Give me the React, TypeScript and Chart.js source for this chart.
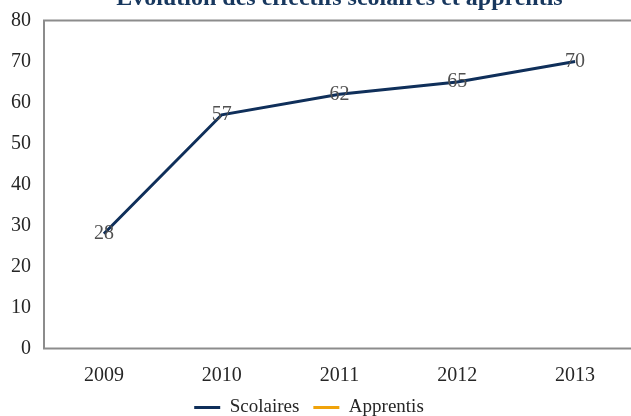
import React, { useEffect, useRef } from "react";
import { Chart, registerables } from "chart.js";

Chart.register(...registerables);

const titleText = "Evolution des effectifs scolaires et apprentis";
const categories = ["2009", "2010", "2011", "2012", "2013"];
const scolaires = [28, 57, 62, 65, 70];
const apprentis: (number | null)[] = [null, null, null, null, null];
const yTicks = [0, 10, 20, 30, 40, 50, 60, 70, 80];

const FONT = "'Liberation Serif', 'DejaVu Serif', serif";
const NAVY = "#0f2f5a";
const ORANGE = "#f0a30a";

const boxPlugin = {
  id: "boxPlugin",
  beforeDatasetsDraw(chart: any) {
    const { ctx, chartArea } = chart;
    ctx.save();
    ctx.strokeStyle = "#8c8c8c";
    ctx.lineWidth = 2;
    ctx.strokeRect(chartArea.left - 1, chartArea.top, chartArea.right - chartArea.left + 1, chartArea.bottom - chartArea.top);
    ctx.restore();
  },
};

const labelPlugin = {
  id: "labelPlugin",
  afterDatasetsDraw(chart: any) {
    const { ctx } = chart;
    ctx.save();
    ctx.font = `20px ${FONT}`;
    ctx.fillStyle = "#505050";
    ctx.textAlign = "center";
    ctx.textBaseline = "middle";
    chart.data.datasets.forEach((ds: any, i: number) => {
      const meta = chart.getDatasetMeta(i);
      meta.data.forEach((pt: any, j: number) => {
        const v = ds.data[j];
        if (v === null || v === undefined) return;
        ctx.fillText(String(v), pt.x, pt.y);
      });
    });
    ctx.restore();
  },
};

export default function App() {
  const ref = useRef<HTMLCanvasElement | null>(null);
  useEffect(() => {
    if (!ref.current) return;
    const chart = new Chart(ref.current, {
      type: "line",
      data: {
        labels: categories,
        datasets: [
          {
            label: "Scolaires",
            data: scolaires,
            borderColor: NAVY,
            backgroundColor: NAVY,
            borderWidth: 3,
            pointRadius: 0,
            tension: 0,
          },
          {
            label: "Apprentis",
            data: apprentis,
            borderColor: ORANGE,
            backgroundColor: ORANGE,
            borderWidth: 3,
            pointRadius: 0,
          },
        ],
      },
      options: {
        animation: false,
        responsive: false,
        maintainAspectRatio: false,
        layout: { padding: { left: 0, right: 0, top: 0, bottom: 9 } },
        plugins: {
          title: {
            display: true,
            text: titleText,
            color: "#17375e",
            fullSize: false,
            font: { family: FONT, size: 24, weight: "bold" },
            padding: { top: 8, bottom: 7.7 },
          },
          legend: {
            position: "bottom",
            labels: {
              font: { family: FONT, size: 19 },
              color: "#262626",
              boxWidth: 26,
              boxHeight: 3,
              padding: 14,
              generateLabels(chart: any) {
                return chart.data.datasets.map((ds: any, i: number) => ({
                  text: ds.label,
                  fillStyle: ds.borderColor,
                  strokeStyle: ds.borderColor,
                  lineWidth: 0,
                  hidden: false,
                  datasetIndex: i,
                  fontColor: "#262626",
                }));
              },
            },
          },
          tooltip: { enabled: false },
        },
        scales: {
          x: {
            offset: true,
            grid: { display: false, drawTicks: false, offset: true },
            border: { display: false },
            ticks: { font: { family: FONT, size: 20 }, color: "#262626", padding: 15 },
            afterFit(s: any) {
              s.height = 35.5;
            },
          },
          y: {
            min: 0,
            max: 80,
            afterBuildTicks(s: any) {
              s.ticks = yTicks.map((v) => ({ value: v }));
            },
            grid: { display: false, drawTicks: false },
            border: { display: false },
            ticks: { font: { family: FONT, size: 20 }, color: "#262626", padding: 14 },
            afterFit(s: any) {
              s.width = 61;
            },
          },
        },
      },
      plugins: [boxPlugin, labelPlugin],
    });
    return () => chart.destroy();
  }, []);
  return (
    <div style={{ position: "absolute", left: 0, top: 0, width: 631, height: 416, overflow: "hidden", background: "#fff" }}>
      <canvas ref={ref} width={650} height={460} style={{ position: "absolute", left: -16, top: -24, width: 650, height: 460 }} />
    </div>
  );
}
